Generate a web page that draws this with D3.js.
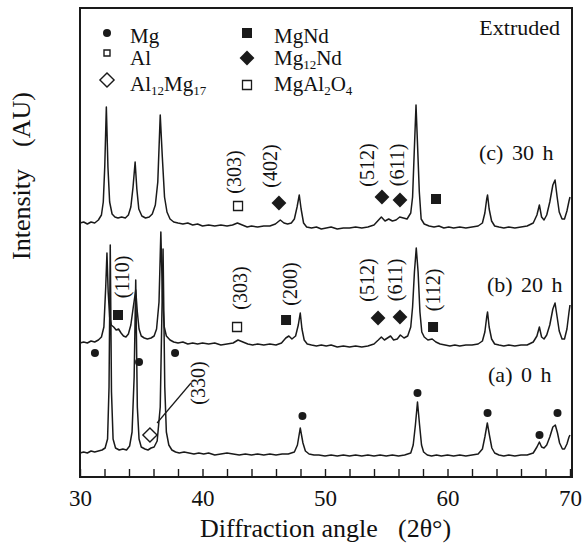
<!DOCTYPE html>
<html><head><meta charset="utf-8">
<script src="https://cdn.jsdelivr.net/npm/d3@7"></script>
<style>
body{margin:0;background:#fff}
svg{display:block}
text{font-family:"Liberation Serif","Times New Roman",serif;fill:#111}
</style>
</head><body><svg id="chart" width="583" height="546"></svg>
<script>
// ---- data: [2theta (deg), intensity (AU, stacked)] ----
const trace0h = [[30.0,24],[30.3,25],[30.6,24],[30.9,26],[31.2,25],[31.5,26],[31.8,27],[32.05,29],[32.25,38],[32.37,90],[32.47,232],[32.57,85],[32.7,38],[32.9,29],[33.2,27],[33.5,28],[33.8,27],[34.05,31],[34.25,45],[34.42,100],[34.55,197],[34.68,70],[34.82,38],[35.0,30],[35.3,28],[35.55,27],[35.8,29],[36.05,30],[36.3,36],[36.55,70],[36.78,228],[36.92,90],[37.05,45],[37.25,32],[37.5,27],[37.8,25],[38.1,24],[38.5,25],[38.9,24],[39.3,23],[39.7,24],[40.1,23],[40.5,24],[41.0,22],[41.5,23],[42.0,24],[42.5,23],[43.0,22],[43.5,23],[44.0,22],[44.5,23],[45.0,22],[45.5,23],[46.0,22],[46.5,23],[47.0,23],[47.5,25],[47.75,32],[47.98,49],[48.2,34],[48.4,26],[48.7,23],[49.1,22],[49.5,22],[50.0,21],[50.5,22],[51.0,21],[51.5,22],[52.0,21],[52.5,22],[53.0,21],[53.5,22],[54.0,21],[54.5,22],[55.0,21],[55.5,22],[56.0,21],[56.5,22],[57.0,24],[57.2,32],[57.38,52],[57.55,75],[57.72,52],[57.88,32],[58.05,25],[58.35,22],[58.7,21],[59.1,22],[59.5,21],[60.0,22],[60.5,21],[61.0,22],[61.5,21],[62.0,22],[62.5,23],[62.85,28],[63.05,40],[63.25,54],[63.42,42],[63.62,29],[63.85,24],[64.2,22],[64.6,21],[65.0,22],[65.5,21],[66.0,22],[66.5,22],[67.0,24],[67.3,30],[67.5,35],[67.68,30],[67.88,29],[68.1,32],[68.35,40],[68.6,50],[68.8,52],[68.98,44],[69.15,34],[69.38,28],[69.55,28],[69.75,33],[69.92,40],[70.0,42]];
const trace20h = [[30.0,134],[30.3,135],[30.6,134],[30.9,136],[31.2,135],[31.5,137],[31.75,140],[31.95,150],[32.1,190],[32.2,224],[32.3,185],[32.42,160],[32.55,152],[32.75,150],[32.95,147],[33.15,148],[33.35,144],[33.55,141],[33.75,140],[33.95,143],[34.15,152],[34.35,170],[34.55,187],[34.68,165],[34.82,148],[35.0,141],[35.25,139],[35.5,138],[35.8,139],[36.05,141],[36.25,148],[36.45,175],[36.6,245],[36.73,180],[36.88,150],[37.05,141],[37.35,137],[37.65,135],[38.0,134],[38.4,135],[38.8,133],[39.2,134],[39.6,133],[40.0,134],[40.5,133],[41.0,134],[41.5,132],[42.0,133],[42.5,134],[42.9,137],[43.3,135],[43.7,133],[44.1,132],[44.5,133],[45.0,132],[45.5,133],[46.0,132],[46.45,134],[46.8,139],[47.05,141],[47.3,138],[47.6,141],[47.82,152],[47.98,164],[48.12,148],[48.3,137],[48.55,133],[48.9,132],[49.3,131],[49.7,132],[50.1,131],[50.5,132],[51.0,130],[51.5,131],[52.0,130],[52.5,131],[53.0,130],[53.5,131],[54.0,133],[54.35,137],[54.6,140],[54.85,137],[55.1,139],[55.35,141],[55.6,137],[55.9,138],[56.15,142],[56.45,139],[56.75,141],[57.0,150],[57.15,170],[57.3,205],[57.45,229],[57.6,205],[57.75,165],[57.9,145],[58.1,140],[58.4,137],[58.75,138],[59.05,135],[59.4,133],[59.8,132],[60.2,131],[60.6,132],[61.0,131],[61.5,132],[62.0,132],[62.5,133],[62.85,136],[63.05,145],[63.2,160],[63.27,165],[63.4,150],[63.6,138],[63.85,133],[64.2,132],[64.6,131],[65.0,132],[65.5,131],[66.0,132],[66.5,132],[67.0,135],[67.3,141],[67.5,150],[67.68,140],[67.88,138],[68.1,142],[68.35,152],[68.6,168],[68.78,174],[68.95,160],[69.12,146],[69.35,138],[69.55,138],[69.75,148],[69.92,165],[70.0,172]];
const trace30h = [[30.0,254],[30.3,255],[30.6,253],[30.9,255],[31.2,254],[31.5,257],[31.75,262],[31.9,275],[32.02,310],[32.15,370],[32.28,310],[32.42,275],[32.62,263],[32.85,260],[33.1,259],[33.4,260],[33.7,259],[33.95,262],[34.15,270],[34.33,290],[34.5,315],[34.64,288],[34.8,268],[35.05,261],[35.35,259],[35.65,260],[35.9,263],[36.15,272],[36.35,295],[36.55,362],[36.72,320],[36.9,280],[37.1,265],[37.35,258],[37.65,255],[38.0,254],[38.4,253],[38.8,254],[39.2,252],[39.6,253],[40.0,251],[40.5,252],[41.0,251],[41.5,252],[42.0,251],[42.45,252],[42.85,254],[43.25,252],[43.65,250],[44.0,251],[44.5,250],[45.0,251],[45.5,251],[45.95,253],[46.35,257],[46.65,254],[46.95,253],[47.25,254],[47.5,258],[47.72,270],[47.9,282],[48.05,268],[48.25,254],[48.5,250],[48.9,249],[49.3,250],[49.7,248],[50.1,249],[50.5,250],[51.0,248],[51.5,249],[52.0,249],[52.5,250],[53.0,249],[53.5,250],[54.0,252],[54.3,256],[54.6,260],[54.9,256],[55.2,258],[55.5,256],[55.8,257],[56.1,260],[56.4,259],[56.7,258],[57.0,264],[57.15,280],[57.3,330],[57.43,372],[57.56,330],[57.7,285],[57.85,258],[58.1,253],[58.5,251],[58.9,250],[59.3,251],[59.7,249],[60.1,250],[60.5,249],[61.0,250],[61.5,249],[62.0,250],[62.5,251],[62.85,254],[63.05,264],[63.2,278],[63.27,282],[63.4,268],[63.6,256],[63.85,251],[64.2,250],[64.6,249],[65.0,250],[65.5,249],[66.0,250],[66.5,251],[67.0,254],[67.3,262],[67.5,272],[67.68,260],[67.88,257],[68.1,262],[68.35,275],[68.6,292],[68.78,297],[68.95,280],[69.12,265],[69.35,258],[69.55,258],[69.75,266],[69.92,276],[70.0,280]];
const traces = [trace0h, trace20h, trace30h];

const seriesNames = ["(a) 0 h", "(b) 20 h", "(c) 30 h"];
const seriesLabelAt = [[63.31,95],[63.22,185],[62.57,317]];

// phase markers [2theta, intensity]
const mgDots = [[31.22,124],[34.82,115],[37.76,124],[48.16,61],[57.55,84],[63.27,64],[67.51,42],[68.98,64]];
const al12mg17Diamonds = [[35.71,42]];
const mgNdSquares = [[33.10,162],[46.82,157],[58.82,150],[59.06,278]];
const mg12NdDiamonds = [[54.33,159],[56.12,160],[46.24,274],[54.65,280],[56.12,277]];
const mgAl2O4Squares = [[42.82,150],[42.90,271]];

// hkl labels [2theta, intensity, text]
const hklLabels = [[39.63,94,"(330)"],[33.43,200,"(110)"],[43.06,189,"(303)"],[47.14,193,"(200)"],[53.43,197,"(512)"],[55.71,197,"(611)"],[58.82,187,"(112)"],[42.57,305,"(303)"],[45.51,311,"(402)"],[53.43,312,"(512)"],[55.88,312,"(611)"]];
const leader330 = [[36.29,54],[39.06,94]];

const xTicks = d3.range(30, 71, 2);
const xTickLabels = [30, 40, 50, 60, 70];

// ---- drawing ----
const svg = d3.select("#chart");
const L = 80, R = 572, T = 8, B = 477;
const x = d3.scaleLinear().domain([30, 70]).range([L, 570]);
const y = d3.scaleLinear().domain([0, 469]).range([B, T]);

const line = d3.line().x(d => x(d[0])).y(d => y(d[1]));
svg.append("g").selectAll("path").data(traces).join("path")
  .attr("d", line).attr("fill", "none").attr("stroke", "#1a1a1a")
  .attr("stroke-width", 1.5).attr("stroke-linejoin", "round");

function sym(g, type, px, py) {
  let p;
  if (type === "dot") p = g.append("circle").attr("r", 4).attr("fill", "#1a1a1a");
  else if (type === "alSq") p = g.append("path").attr("d", d3.symbol(d3.symbolSquare, 36)()).attr("fill", "#fff").attr("stroke", "#1a1a1a").attr("stroke-width", 1.4);
  else if (type === "openDia") p = g.append("path").attr("d", d3.symbol(d3.symbolSquare, 100)()).attr("fill", "#fff").attr("stroke", "#1a1a1a").attr("stroke-width", 1.4);
  else if (type === "fillSq") p = g.append("path").attr("d", d3.symbol(d3.symbolSquare, 100)()).attr("fill", "#1a1a1a");
  else if (type === "fillDia") p = g.append("path").attr("d", d3.symbol(d3.symbolSquare, 110)()).attr("fill", "#1a1a1a");
  else if (type === "openSq") p = g.append("path").attr("d", d3.symbol(d3.symbolSquare, 81)()).attr("fill", "#fff").attr("stroke", "#1a1a1a").attr("stroke-width", 1.3);
  const rot = (type === "openDia" || type === "fillDia") ? " rotate(45)" : "";
  if (p.node().tagName === "circle") p.attr("cx", px).attr("cy", py);
  else p.attr("transform", `translate(${px},${py})${rot}`);
}

const mk = svg.append("g");
mgDots.forEach(d => sym(mk, "dot", x(d[0]), y(d[1])));
al12mg17Diamonds.forEach(d => sym(mk, "openDia", x(d[0]), y(d[1])));
mgNdSquares.forEach(d => sym(mk, "fillSq", x(d[0]), y(d[1])));
mg12NdDiamonds.forEach(d => sym(mk, "fillDia", x(d[0]), y(d[1])));
mgAl2O4Squares.forEach(d => sym(mk, "openSq", x(d[0]), y(d[1])));

svg.append("path").attr("d", line(leader330)).attr("stroke", "#1a1a1a").attr("stroke-width", 1.2).attr("fill", "none");

svg.append("g").selectAll("text").data(hklLabels).join("text")
  .attr("transform", d => `translate(${x(d[0])},${y(d[1])}) rotate(-90)`)
  .attr("text-anchor", "middle").attr("dominant-baseline", "central")
  .attr("font-size", 20).text(d => d[2]);

svg.append("g").selectAll("text").data(seriesNames).join("text")
  .attr("x", (d, i) => x(seriesLabelAt[i][0])).attr("y", (d, i) => y(seriesLabelAt[i][1]))
  .attr("font-size", 22).attr("word-spacing", 3).text(d => d);

// frame
svg.append("rect").attr("x", L).attr("y", T).attr("width", R - L).attr("height", B - T)
  .attr("fill", "none").attr("stroke", "#1a1a1a").attr("stroke-width", 2);

// x axis
const ax = svg.append("g").attr("transform", `translate(0,${B})`)
  .call(d3.axisBottom(x).tickValues(xTicks).tickSize(-8).tickPadding(13)
    .tickFormat(d => xTickLabels.includes(d) ? d : ""));
ax.select(".domain").remove();
ax.selectAll("line").attr("stroke", "#1a1a1a").attr("stroke-width", 1.4);
ax.selectAll("text").attr("font-size", 23).attr("font-family", "Liberation Serif, serif").attr("fill", "#111");

svg.append("text").attr("x", 200).attr("y", 537).attr("font-size", 26).text("Diffraction angle");
svg.append("text").attr("x", 398).attr("y", 537).attr("font-size", 26).text("(2θ°)");

const yl = svg.append("g").attr("transform", "translate(30,260) rotate(-90)");
yl.append("text").attr("x", 0).attr("y", 0).attr("font-size", 26).text("Intensity");
yl.append("text").attr("x", 113).attr("y", 0).attr("font-size", 26).text("(AU)");

// legend
svg.append("text").attr("x", 560).attr("y", 35).attr("font-size", 22).attr("text-anchor", "end").text("Extruded");
const legendItems = [
  {sym: "dot", sx: 107, sy: 33, tx: 130, ty: 43, parts: [["Mg", 0]]},
  {sym: "alSq", sx: 107, sy: 53, tx: 130, ty: 65, parts: [["Al", 0]]},
  {sym: "openDia", sx: 107, sy: 80, tx: 130, ty: 91, parts: [["Al", 0], ["12", 1], ["Mg", 0], ["17", 1]]},
  {sym: "fillSq", sx: 247, sy: 33, tx: 274, ty: 43, parts: [["MgNd", 0]]},
  {sym: "fillDia", sx: 247, sy: 58, tx: 274, ty: 65, parts: [["Mg", 0], ["12", 1], ["Nd", 0]]},
  {sym: "openSq", sx: 247, sy: 85, tx: 274, ty: 91, parts: [["MgAl", 0], ["2", 1], ["O", 0], ["4", 1]]}
];
const lg = svg.append("g");
legendItems.forEach(it => {
  sym(lg, it.sym, it.sx, it.sy);
  const t = lg.append("text").attr("x", it.tx).attr("y", it.ty).attr("font-size", 21);
  let prevSub = 0;
  it.parts.forEach(p => {
    const dy = p[1] === prevSub ? 0 : (p[1] ? 4 : -4);
    t.append("tspan").attr("dy", dy).attr("font-size", p[1] ? 13 : 21).text(p[0]);
    prevSub = p[1];
  });
});
</script>
</body></html>
